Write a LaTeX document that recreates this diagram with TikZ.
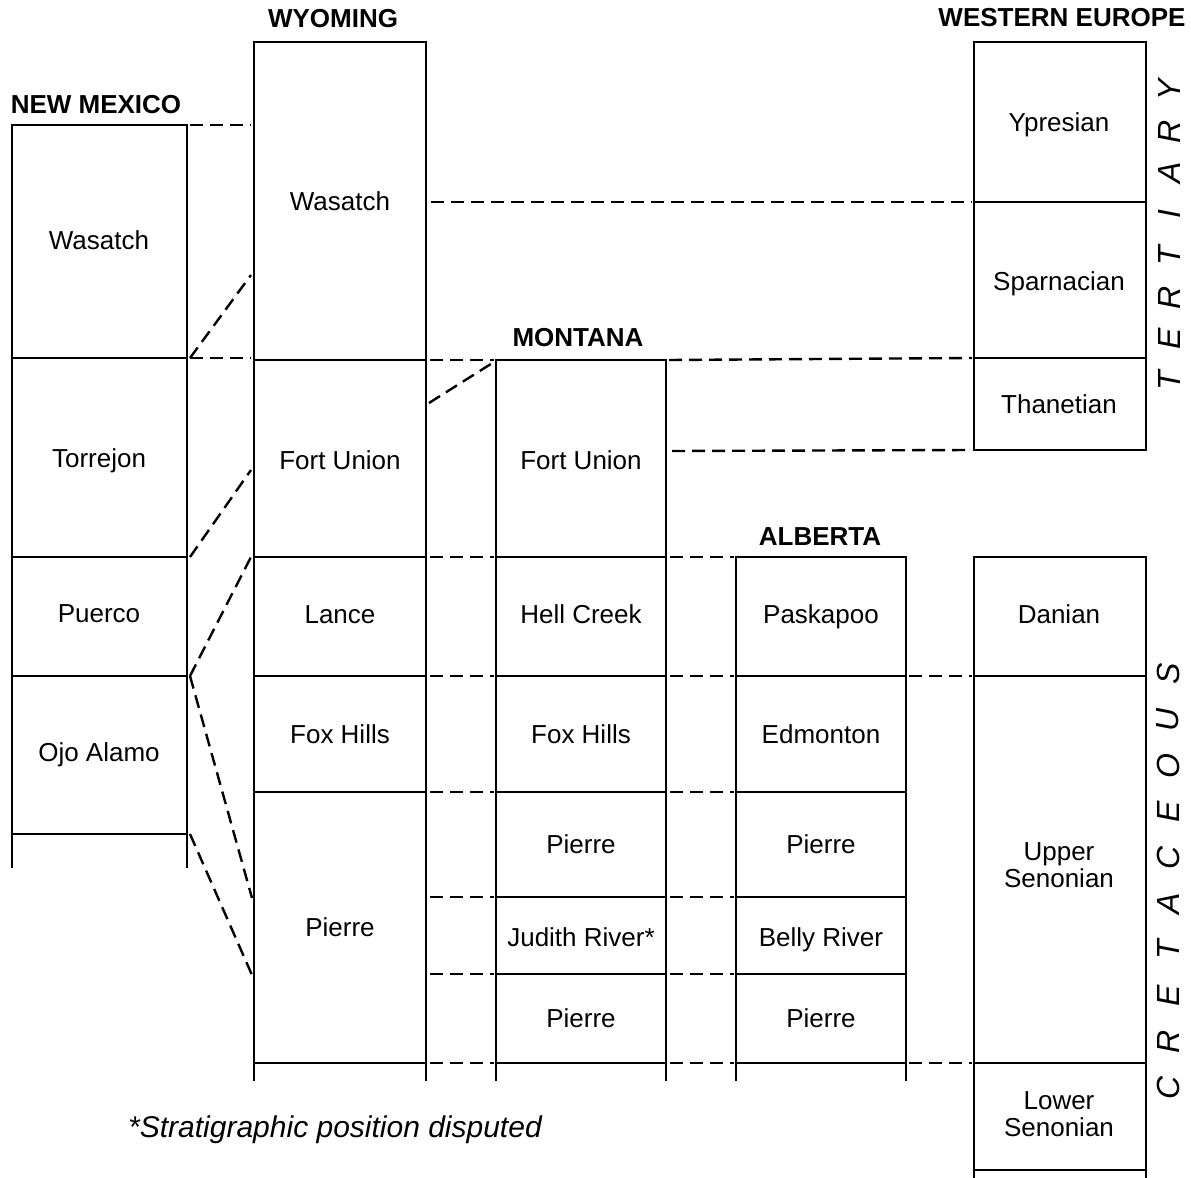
\documentclass[tikz,border=0pt]{standalone}
\usepackage{fontspec}
\setmainfont{Liberation Sans}

\begin{document}
\begin{tikzpicture}[x=0.5pt,y=-0.5pt,
  strat/.style={line width=1.3pt, line cap=rect},
  corr/.style={line width=1.2pt, dash pattern=on 6.5pt off 3.5pt},
  unit/.style={font=\fontsize{13}{14}\selectfont, text height=9.3pt, text depth=0pt, inner sep=0pt},
  unitb/.style={font=\fontsize{13}{13.5}\selectfont, align=center, inner sep=0pt},
  region/.style={font=\bfseries\fontsize{13}{14}\selectfont, inner sep=0pt},
  era/.style={font=\itshape\fontsize{16}{16}\selectfont, inner sep=0pt, rotate=90}]
  \useasboundingbox (0,0) rectangle (1191,1178);

  % Columns: left x / right x / top / end of sides / boundaries
  \foreach \xl/\xr/\ytop/\yend/\ys in {12/187/125/867/{125,358,557,676,834},
      254/426/42/1080/{42,360,557,676,792,1063},
      496/666/360/1080/{360,557,676,792,897,974,1063},
      736/906/557/1080/{557,676,792,897,974,1063},
      974/1146/42/450/{42,202,358,450},
      974/1146/557/1178/{557,676,1063,1170}} {
    \draw[strat] (\xl,\ytop) -- (\xl,\yend) (\xr,\ytop) -- (\xr,\yend);
    \foreach \y in \ys
      \draw[strat] (\xl,\y) -- (\xr,\y);
  }

  % Regions
  \node[region] (nmhead) at (96,105) {NEW MEXICO};
  \node[region] (wyhead) at (333,19) {WYOMING};
  \node[region] (mthead) at (578,338) {MONTANA};
  \node[region] (abhead) at (820,537) {ALBERTA};
  \node[region] (wehead) at (1062,18) {WESTERN EUROPE};

  % Formations
  \foreach \y/\txt [count=\i] in {240/Wasatch, 458/Torrejon, 613/Puerco, 752/{Ojo Alamo}}
    \node[unit] (nm\i) at (99,\y) {\txt};
  \foreach \y/\txt [count=\i] in {201/Wasatch, 460/{Fort Union}, 614/Lance, 734/{Fox Hills}, 927/Pierre}
    \node[unit] (wy\i) at (340,\y) {\txt};
  \foreach \y/\txt [count=\i] in {460/{Fort Union}, 614/{Hell Creek}, 734/{Fox Hills}, 844/Pierre, 937/{Judith River*}, 1018/Pierre}
    \node[unit] (mt\i) at (581,\y) {\txt};
  \foreach \y/\txt [count=\i] in {614/Paskapoo, 734/Edmonton, 844/Pierre, 937/{Belly River}, 1018/Pierre}
    \node[unit] (ab\i) at (821,\y) {\txt};
  \foreach \y/\txt [count=\i] in {122/Ypresian, 281/Sparnacian, 404/Thanetian, 614/Danian}
    \node[unit] (we\i) at (1059,\y) {\txt};
  \node[unitb] (we5) at (1059,865) {Upper\\Senonian};
  \node[unitb] (we6) at (1059,1114) {Lower\\Senonian};

  % Correlations New Mexico - Wyoming
  \draw[corr] (190,125) -- (251,125);
  \draw[corr] (190,358) -- (251,275);
  \draw[corr] (190,358) -- (251,358);
  \draw[corr] (190,557) -- (251,470);
  \draw[corr] (190,676) -- (251,557);
  \draw[corr] (190,676) -- (252,898);
  \draw[corr] (190,834) -- (252,975);

  % Wyoming - Montana - Alberta
  \draw[corr] (430,360) -- (494,360);
  \draw[corr] (429,403) -- (494,362);
  \foreach \y in {557,676,792,897,974,1063} {
    \draw[corr] (430,\y) -- (494,\y);
    \draw[corr] (670,\y) -- (734,\y);
  }

  % Western Europe
  \draw[corr] (431,202) -- (972,202);
  \draw[corr] (669,360) -- (972,358);
  \draw[corr] (672,451) -- (972,450);
  \draw[corr] (909,676) -- (972,676);
  \draw[corr] (909,1063) -- (972,1063);

  % Eras
  \foreach \ch [count=\i] in {T,E,R,T,I,A,R,Y}
    \node[era] (ter\i) at (1169,422-\i*41.5) {\ch};
  \foreach \ch [count=\i] in {C,R,E,T,A,C,E,O,U,S}
    \node[era] (cre\i) at (1168,1134-\i*46) {\ch};

  % Footnote
  \node[font=\itshape\fontsize{15}{16}\selectfont, anchor=base] (note) at (335,1137) {*Stratigraphic position disputed};
\end{tikzpicture}
\end{document}
